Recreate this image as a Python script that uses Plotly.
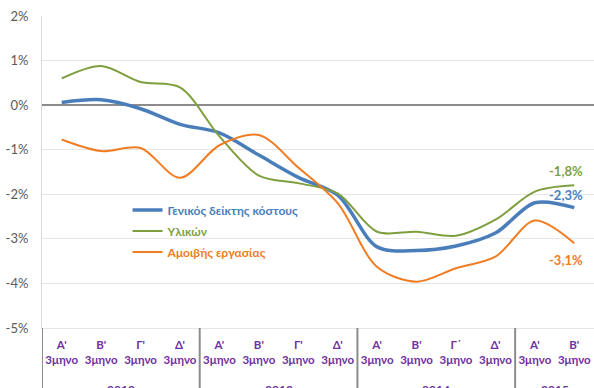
import plotly.graph_objects as go

# Quarterly rate of change (%) of the construction cost index
years = ["2012", "2013", "2014", "2015"]
quarters_per_year = [4, 4, 4, 2]
quarters = ["Α'", "Β'", "Γ'", "Δ'",
            "Α'", "Β'", "Γ'", "Δ'",
            "Α'", "Β'", "Γ΄", "Δ'",
            "Α'", "Β'"]

general = [0.06, 0.12, -0.08, -0.43, -0.62, -1.12, -1.62, -2.02,
           -3.18, -3.26, -3.16, -2.87, -2.19, -2.3]
materials = [0.60, 0.88, 0.52, 0.40, -0.70, -1.58, -1.75, -1.98,
             -2.84, -2.84, -2.93, -2.57, -1.94, -1.8]
labour = [-0.77, -1.03, -0.96, -1.63, -0.90, -0.67, -1.40, -2.20,
          -3.63, -3.96, -3.66, -3.40, -2.59, -3.1]

names = ["Γενικός δείκτης κόστους", "Υλικών", "Αμοιβής εργασίας"]
colors = ["#4A7EBB", "#7F9F3F", "#F07D24"]
widths = [3.5, 2, 2]
y_ticks = [2, 1, 0, -1, -2, -3, -4, -5]

FONT = "Lato, 'Open Sans', sans-serif"
PURPLE = "#7030A0"

xpos = list(range(len(quarters)))

fig = go.Figure()
for name, vals, col, w in zip(names, [general, materials, labour], colors, widths):
    fig.add_trace(go.Scatter(
        x=xpos, y=vals, mode="lines",
        name=f"<b><span style='color:{col}'>{name}</span></b>",
        legendgroup=name,
        line=dict(color=col, width=w, shape="spline", smoothing=0.9),
        hoverinfo="skip",
    ))

# value labels on the last quarter
last = xpos[-1]
label_shift = [13, 14, -17]
for vals, col, ys in zip([general, materials, labour], colors, label_shift):
    fig.add_annotation(
        x=last, y=vals[-1], xref="x", yref="y",
        text=f"<b>{vals[-1]:.1f}%</b>".replace(".", ","),
        showarrow=False, xshift=-8, yshift=ys,
        font=dict(family=FONT, size=13, color=col),
    )

# year labels and group dividers below the axis
start = 0
boundaries = [-0.5]
for yr, n in zip(years, quarters_per_year):
    centre = start + (n - 1) / 2
    fig.add_annotation(
        x=centre, y=0, xref="x", yref="paper", yanchor="top",
        text=f"<b>{yr}</b>", showarrow=False, yshift=-52,
        font=dict(family=FONT, size=12, color=PURPLE),
    )
    start += n
    boundaries.append(start - 0.5)

for b in boundaries[:-1]:
    fig.add_shape(
        type="line", xref="x", yref="paper",
        x0=b, x1=b, y0=0, y1=-0.3,
        line=dict(color="#8C8C8C", width=2),
    )

fig.update_layout(
    width=594, height=388,
    margin=dict(l=42, r=0, t=16, b=60),
    paper_bgcolor="white", plot_bgcolor="white",
    font=dict(family=FONT, size=13, color="#595959"),
    showlegend=True,
    legend=dict(
        x=0.155, y=0.425, xanchor="left", yanchor="top",
        bgcolor="rgba(0,0,0,0)", borderwidth=0,
        font=dict(family=FONT, size=12),
        tracegroupgap=2, itemwidth=30,
    ),
    xaxis=dict(
        range=[-0.5, len(quarters) - 0.5],
        tickvals=xpos,
        ticktext=[f"<b>{q}<br>3μηνο</b>" for q in quarters],
        tickangle=0,
        showgrid=False, zeroline=False,
        showline=True, linecolor="#E6E6E6", linewidth=1,
        tickfont=dict(family=FONT, size=11.5, color=PURPLE),
        ticks="", ticklabelstandoff=6,
    ),
    yaxis=dict(
        range=[-5, 2], tickvals=y_ticks,
        ticktext=[f"{v}%" for v in y_ticks],
        showgrid=True, gridcolor="#E6E6E6", gridwidth=1,
        zeroline=True, zerolinecolor="#8C8C8C", zerolinewidth=2,
        showline=True, linecolor="#D9D9D9", linewidth=1,
        tickfont=dict(family=FONT, size=13, color="#595959"),
        ticks="", ticklabelstandoff=10,
    ),
)

fig.write_html("out.html")
